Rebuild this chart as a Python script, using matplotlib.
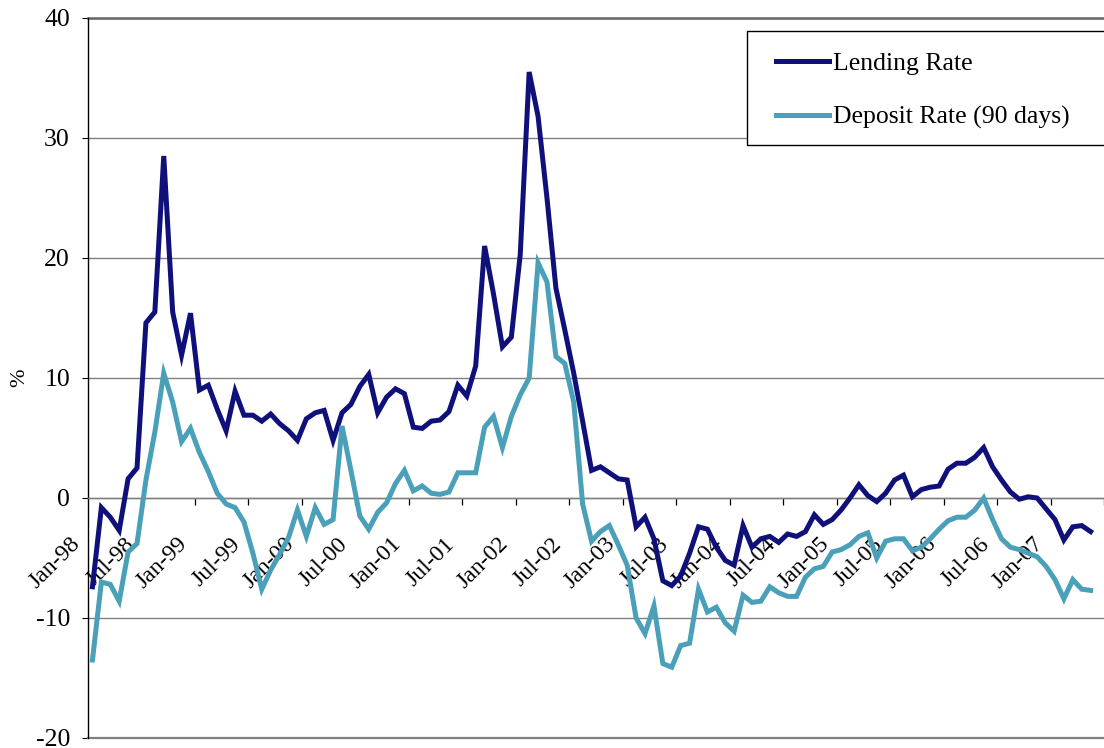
import matplotlib
matplotlib.use("Agg")
import matplotlib.pyplot as plt
import matplotlib.transforms as mtransforms
from matplotlib.patches import Rectangle

plt.rcParams['font.family'] = ['Liberation Serif', 'DejaVu Serif']

# Monthly data, Jan-98 .. May-07 (%)
lending = [-7.4, -0.8, -1.6, -2.7, 1.6, 2.5, 14.6, 15.5, 28.5, 15.5,
           11.9, 15.4, 9.0, 9.4, 7.4, 5.6, 8.9, 6.9, 6.9, 6.4,
           7.0, 6.2, 5.6, 4.8, 6.6, 7.1, 7.3, 4.8, 7.1, 7.8,
           9.3, 10.3, 7.1, 8.4, 9.1, 8.7, 5.9, 5.8, 6.4, 6.5,
           7.2, 9.4, 8.5, 11.0, 21.0, 17.0, 12.6, 13.4, 20.3, 35.5,
           31.8, 25.0, 17.5, 14.0, 10.4, 6.4, 2.3, 2.6, 2.1, 1.6,
           1.5, -2.4, -1.6, -3.4, -6.9, -7.3, -6.5, -4.6, -2.4, -2.6,
           -4.1, -5.2, -5.6, -2.3, -4.1, -3.4, -3.2, -3.7, -3.0, -3.2,
           -2.8, -1.4, -2.2, -1.8, -1.0, 0.0, 1.1, 0.2, -0.3, 0.4,
           1.5, 1.9, 0.1, 0.7, 0.9, 1.0, 2.4, 2.9, 2.9, 3.4,
           4.2, 2.6, 1.5, 0.5, -0.1, 0.1, 0.0, -0.9, -1.8, -3.5,
           -2.4, -2.3, -2.8]

deposit = [-13.5, -7.0, -7.2, -8.6, -4.5, -3.8, 1.5, 5.5, 10.4, 8.0,
           4.7, 5.8, 3.8, 2.2, 0.4, -0.5, -0.8, -2.0, -4.6, -7.6,
           -6.0, -4.7, -3.3, -1.0, -3.2, -0.8, -2.2, -1.8, 6.0, 2.3,
           -1.5, -2.6, -1.2, -0.4, 1.2, 2.3, 0.6, 1.0, 0.4, 0.3,
           0.5, 2.1, 2.1, 2.1, 5.9, 6.8, 4.2, 6.8, 8.6, 10.0,
           19.6, 18.0, 11.8, 11.2, 8.0, -0.5, -3.6, -2.8, -2.3, -3.9,
           -5.6, -10.0, -11.3, -9.0, -13.8, -14.1, -12.3, -12.1, -7.6, -9.5,
           -9.1, -10.4, -11.1, -8.1, -8.7, -8.6, -7.4, -7.9, -8.2, -8.2,
           -6.6, -5.9, -5.7, -4.5, -4.3, -3.9, -3.2, -2.9, -5.0, -3.6,
           -3.4, -3.4, -4.4, -4.1, -3.4, -2.6, -1.9, -1.6, -1.6, -1.0,
           0.0, -1.8, -3.4, -4.1, -4.3, -4.6, -4.9, -5.7, -6.8, -8.4,
           -6.8, -7.6, -7.7]

tick_labels = ["Jan-98", "Jul-98", "Jan-99", "Jul-99", "Jan-00", "Jul-00",
               "Jan-01", "Jul-01", "Jan-02", "Jul-02", "Jan-03", "Jul-03",
               "Jan-04", "Jul-04", "Jan-05", "Jul-05", "Jan-06", "Jul-06",
               "Jan-07"]
y_ticks = [-20, -10, 0, 10, 20, 30, 40]

series_names = ["Lending Rate", "Deposit Rate (90 days)"]
colors = ["#10107A", "#4A9FB9"]

W, H = 1104, 748
fig = plt.figure(figsize=(W / 100, H / 100), dpi=100)
ax = fig.add_axes([88 / W, 10 / H, (W - 88) / W, 720 / H])

x = list(range(len(lending)))
lw = 3.6
ax.plot(x, lending, color=colors[0], lw=lw, solid_joinstyle='miter',
        label=series_names[0], zorder=3)
ax.plot(x, deposit, color=colors[1], lw=lw, solid_joinstyle='miter',
        label=series_names[1], zorder=3)

step_px = 9.03
ax.set_xlim(-0.5, -0.5 + (W - 88) / step_px)
ax.set_ylim(-20, 40)

# y axis
ax.set_yticks(y_ticks)
ax.set_yticklabels([str(v) for v in y_ticks])
ax.tick_params(axis='y', direction='out', length=4, width=0.8, pad=9,
               labelsize=18.5, colors='black')
ax.yaxis.grid(True, color='#808080', lw=1.0, zorder=1)
ax.set_axisbelow(True)
ax.set_ylabel('%', fontsize=16)
ax.yaxis.set_label_coords((29 - 88) / (W - 88), 0.5)

# x axis at zero
ax.spines['bottom'].set_position(('data', 0))
ax.spines['bottom'].set_color('#808080')
ax.spines['bottom'].set_linewidth(1.0)
ax.spines['top'].set_visible(False)
ax.spines['right'].set_visible(False)
ax.spines['left'].set_color('black')
ax.spines['left'].set_linewidth(1.0)
ax.axhline(-20, color='#808080', lw=1.6, clip_on=False, zorder=2)
ax.axhline(40, color='#666666', lw=1.8, clip_on=False, zorder=2)

label_pos = [6 * k for k in range(len(tick_labels))]
ax.set_xticks(label_pos)
ax.set_xticklabels(tick_labels, rotation=45, ha='right', va='center',
                   rotation_mode='anchor')
ax.set_xticks([p + 5.5 for p in label_pos], minor=True)
ax.tick_params(axis='x', which='major', length=0, pad=31, labelsize=17)
ax.tick_params(axis='x', which='minor', direction='out', length=5,
               width=0.9, color='black')
offset = mtransforms.ScaledTranslation(-0.15, 0, fig.dpi_scale_trans)
for lab in ax.get_xticklabels():
    lab.set_transform(lab.get_transform() + offset)

# legend frame (extends past the right edge as in the reference)
frame = Rectangle((747 / W, 1 - 145 / H), 400 / W, 114 / H,
                  transform=fig.transFigure, facecolor='white',
                  edgecolor='black', lw=1.0, zorder=4, clip_on=False)
ax.add_patch(frame)
leg = ax.legend(loc='upper left', bbox_to_anchor=(776 / W, 1 - 52 / H),
                bbox_transform=fig.transFigure, fontsize=18.5,
                frameon=False, borderpad=0, labelspacing=1.2,
                handlelength=2.05, handletextpad=0.15, borderaxespad=0)
leg.set_zorder(6)
for h in leg.get_lines():
    h.set_linewidth(lw)

fig.savefig('out.png', dpi=100, facecolor='white')
